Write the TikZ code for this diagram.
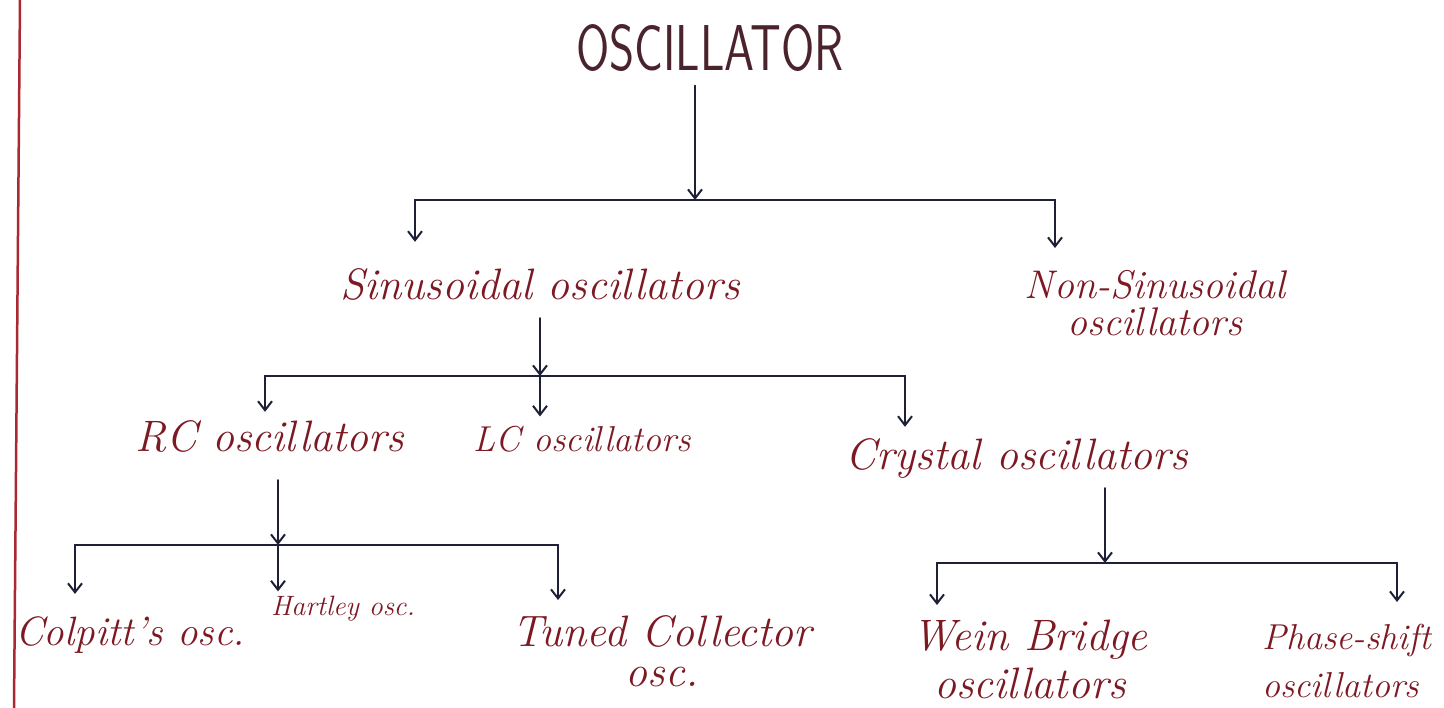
\documentclass[tikz,border=0pt]{standalone}
\usepackage{fontspec}
\usepackage{graphicx}
\usetikzlibrary{arrows.meta,calc}
\definecolor{ink}{RGB}{30,32,55}
\definecolor{redink}{RGB}{125,25,35}
\definecolor{titleink}{RGB}{75,35,45}
\definecolor{marginred}{RGB}{170,40,50}
\begin{document}
\begin{tikzpicture}[x=1pt,y=-1pt,
  ln/.style={draw=ink, line width=2.2pt, line cap=round, line join=round},
  arr/.style={ln, -{Straight Barb[length=9pt,width=14pt,line width=2pt]}},
  lbl/.style={text=redink, font=\fontsize{44}{40}\selectfont\itshape, inner sep=0pt, align=center},
  small/.style={lbl, font=\fontsize{28}{30}\selectfont\itshape},
  title/.style={text=titleink, font=\fontsize{48}{50}\selectfont\sffamily, inner sep=0pt}]
\useasboundingbox (0,0) rectangle (1444,708);
\fill[white] (0,0) rectangle (1444,708);
\draw[marginred, line width=2.5pt] (20,0) -- (14,708);

% nodes
\node[title] (osc) at (710,48) {\scalebox{1}[1.35]{OSCILLATOR}};
\node[lbl, anchor=base] (sin) at (540,300) {Sinusoidal oscillators};
\node[lbl, anchor=north, font=\fontsize{40}{37}\selectfont\itshape] (non) at (1155,270) {Non-Sinusoidal\\oscillators};
\node[lbl, anchor=base] (rc) at (270,452) {RC oscillators};
\node[lbl, anchor=base, font=\fontsize{36}{40}\selectfont\itshape] (lc) at (582,452) {LC oscillators};
\node[lbl, anchor=base] (cry) at (1017,470) {Crystal oscillators};
\node[lbl, anchor=base, font=\fontsize{41}{40}\selectfont\itshape] (col) at (130,645) {Colpitt's osc.};
\node[small, anchor=base] (har) at (343,615) {Hartley osc.};
\node[lbl, anchor=north] (tun) at (662,615) {Tuned Collector\\osc.};
\node[lbl, anchor=north] (wein) at (1030,620) {Wein Bridge\\[8pt]oscillators};
\node[lbl, anchor=north west, align=left, font=\fontsize{36}{40}\selectfont\itshape] (pha) at (1262,624) {Phase-shift\\[8pt]oscillators};

% level 1
\coordinate (j1) at (695,200);
\coordinate (c1L) at (415,200);
\coordinate (c1R) at (1055,200);
\draw[arr, shorten <=14pt] (osc.south -| j1) -- (j1);
\draw[ln] (c1L) -- (c1R);
\draw[arr, shorten >=27pt] (c1L) -- (c1L |- sin.north);
\draw[arr, shorten >=22pt] (c1R) -- (c1R |- non.north);

% level 2
\coordinate (j2) at (540,376);
\coordinate (c2L) at (265,376);
\coordinate (c2R) at (905,376);
\draw[arr, shorten <=17pt] (sin.south -| j2) -- (j2);
\draw[ln] (c2L) -- (c2R);
\draw[arr, shorten >=9pt] (c2L) -- (c2L |- rc.north);
\draw[arr, shorten >=10pt] (j2) -- (j2 |- lc.north);
\draw[arr, shorten >=12pt] (c2R) -- (c2R |- cry.north);

% level 3 (RC)
\coordinate (j3) at (278,545);
\coordinate (c3L) at (75,545);
\coordinate (c3R) at (558,545);
\draw[arr, shorten <=27pt] (rc.south -| j3) -- (j3);
\draw[ln] (c3L) -- (c3R);
\draw[arr, shorten >=22pt] (c3L) -- (c3L |- col.north);
\draw[arr, shorten >=4pt] (j3) -- (j3 |- har.north);
\draw[arr, shorten >=15pt] (c3R) -- (c3R |- tun.north);

% level 3 (Crystal)
\coordinate (j4) at (1105,563);
\coordinate (c4L) at (937,563);
\coordinate (c4R) at (1397,563);
\draw[arr, shorten <=9pt] (cry.south -| j4) -- (j4);
\draw[ln] (c4L) -- (c4R);
\draw[arr, shorten >=15pt] (c4L) -- (c4L |- wein.north);
\draw[arr, shorten >=22pt] (c4R) -- (c4R |- pha.north);
\end{tikzpicture}
\end{document}
